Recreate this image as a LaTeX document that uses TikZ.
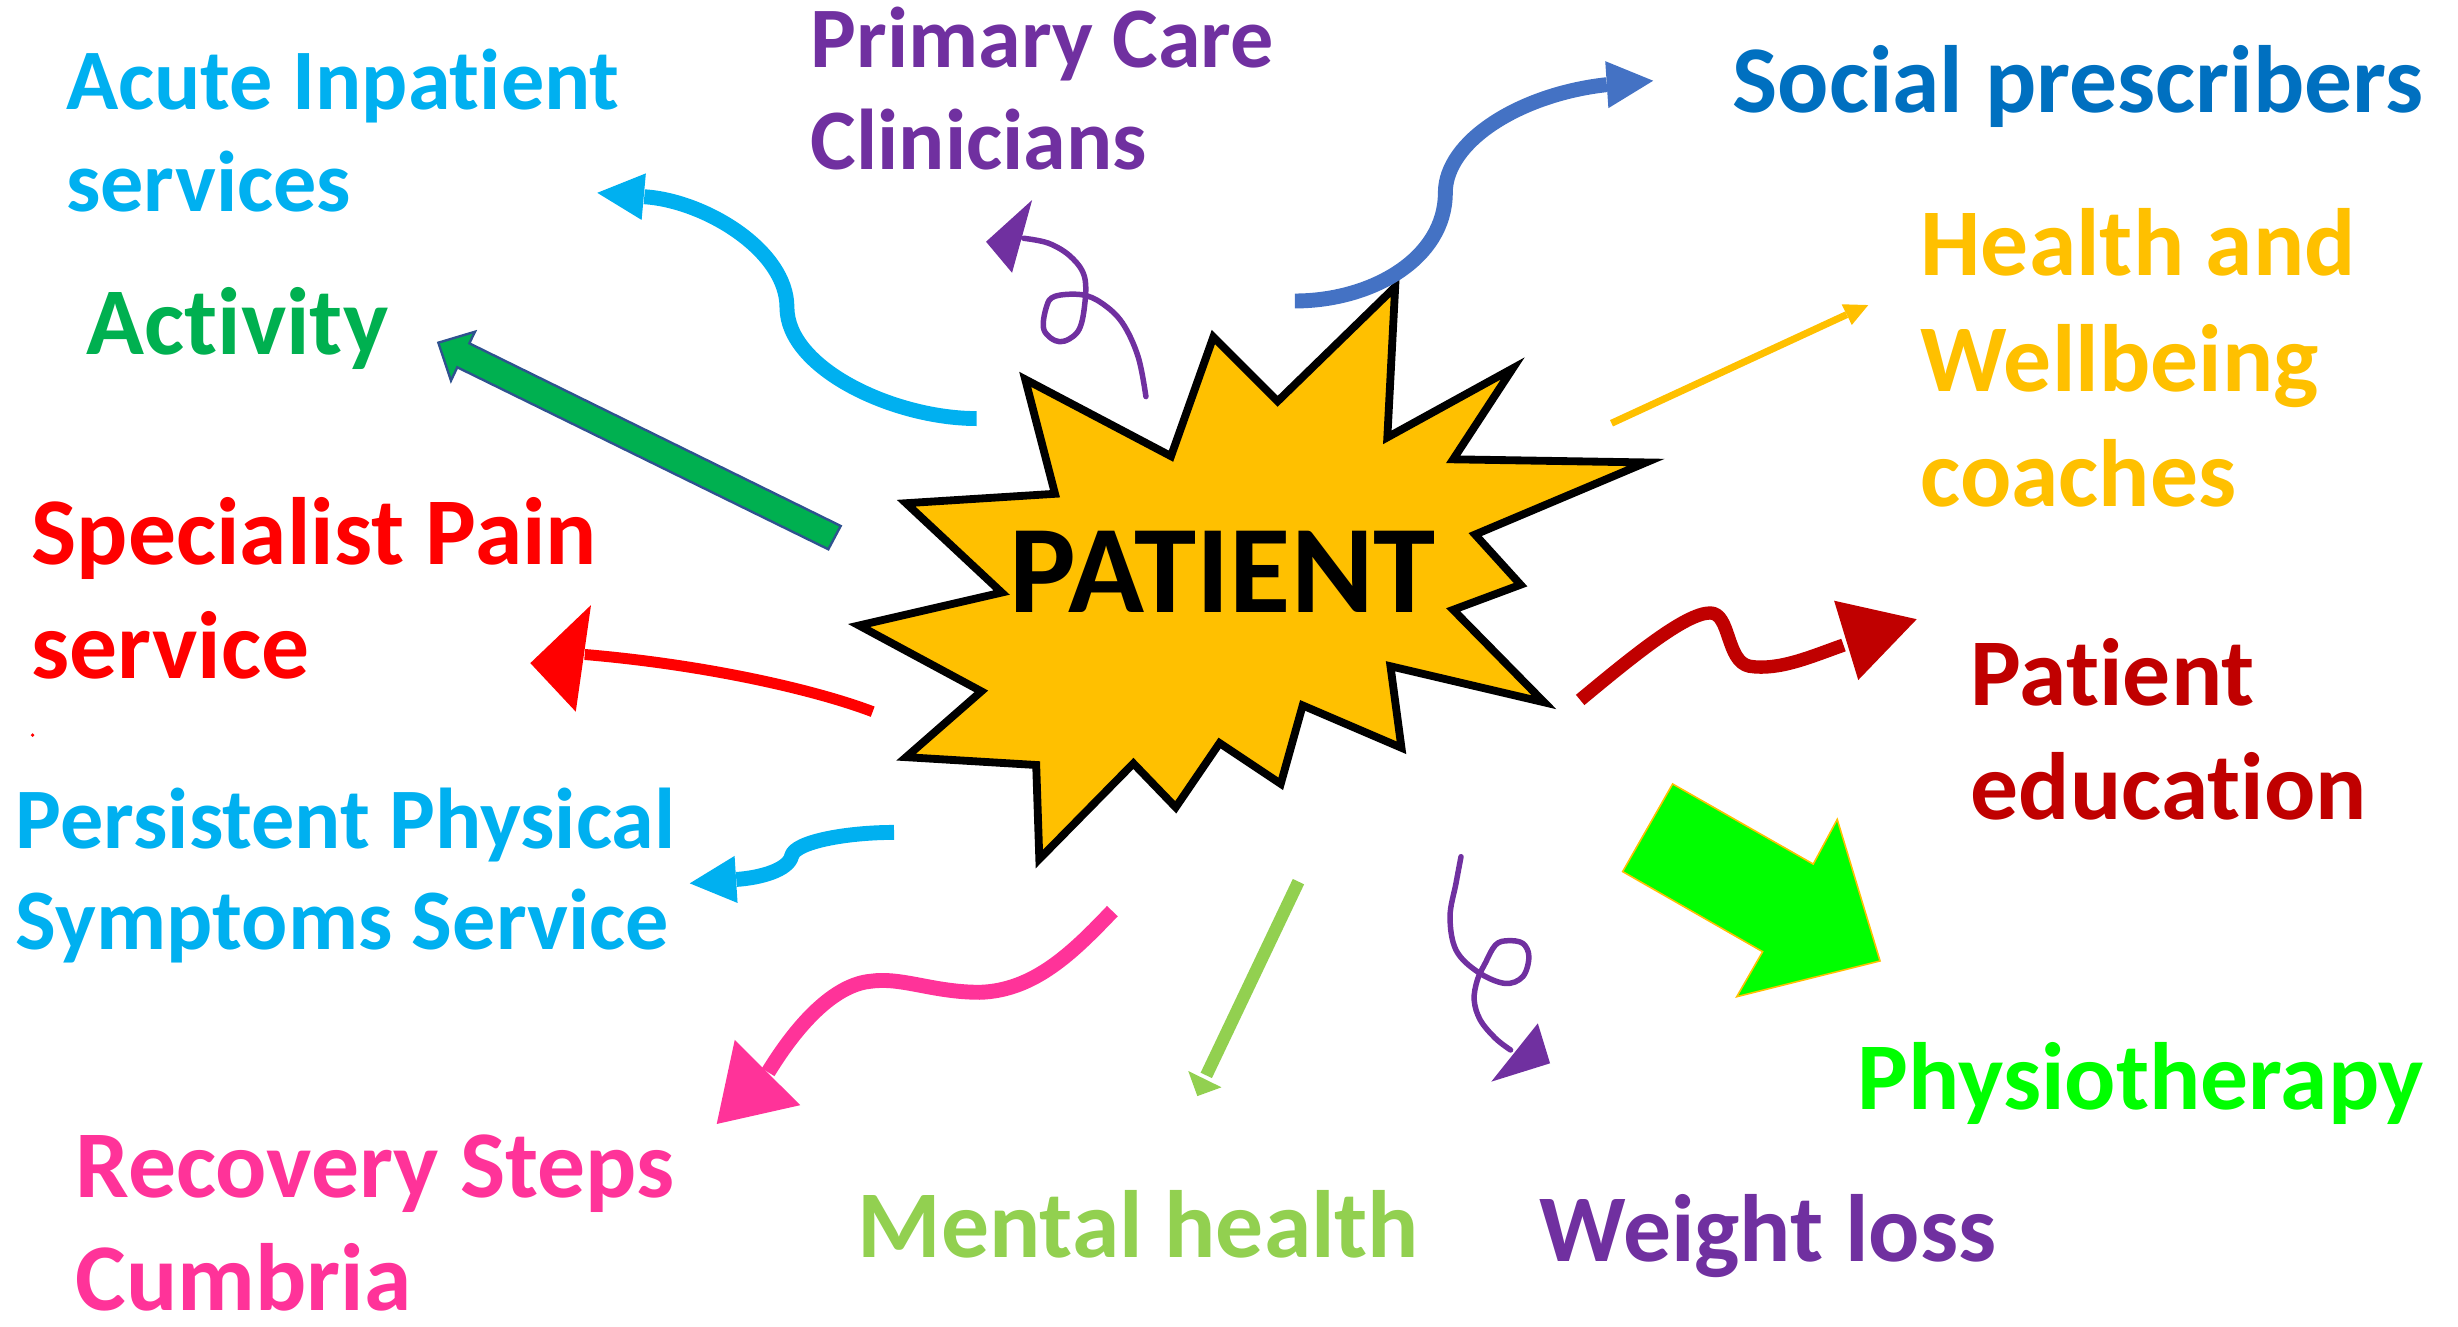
\documentclass[tikz,border=0pt]{standalone}
\usepackage{fontspec}
\setmainfont{Carlito}[Ligatures=NoCommon]
\definecolor{starfill}{HTML}{FFC000}
\definecolor{skyblue}{HTML}{00B0F0}
\definecolor{violet}{HTML}{7030A0}
\definecolor{socialtext}{HTML}{0070C0}
\definecolor{socialarrow}{HTML}{4472C4}
\definecolor{amber}{HTML}{FFC000}
\definecolor{actgreen}{HTML}{00B050}
\definecolor{actedge}{HTML}{2F528F}
\definecolor{painred}{HTML}{FF0000}
\definecolor{darkred}{HTML}{C00000}
\definecolor{lime}{HTML}{00FF00}
\definecolor{pink}{HTML}{FF3399}
\definecolor{leaf}{HTML}{92D050}
\begin{document}
\begin{tikzpicture}[x=1pt,y=-1pt,
  lbl/.style={anchor=base west, inner sep=0pt, font=\fontsize{61}{72}\selectfont\bfseries},
  lblsm/.style={anchor=base west, inner sep=0pt, font=\fontsize{55}{65}\selectfont\bfseries},
  shaft/.style={line cap=butt, line join=round},
  scribble/.style={line cap=round, line join=round, line width=3.5pt},
]
\useasboundingbox (0,0) rectangle (1568,846);

% central burst
\draw[line width=5pt, fill=starfill, line join=miter, miter limit=10]
  (654,242) -- (747,291) -- (774,215) -- (815,256) -- (890,183) -- (885,279)
  -- (965,235) -- (927,293) -- (1050,295) -- (941,341) -- (970,373) -- (927,389)
  -- (985,448) -- (887,425) -- (894,477) -- (831,450) -- (817,500) -- (778,474)
  -- (750,515) -- (723,487) -- (663,548) -- (661,488) -- (578,483) -- (626,441)
  -- (548,399) -- (639,378) -- (578,321) -- (673,315) -- cycle;
\node[anchor=base west, inner sep=0pt, font=\fontsize{80}{90}\selectfont\bfseries] (patient) at (644,391) {PATIENT};

% labels
\node[lblsm, violet] (pc1) at (517,43) {Primary Care};
\node[lblsm, violet] (pc2) at (517,108) {Clinicians};
\node[lblsm, skyblue] (ai1) at (42,70) {Acute Inpatient};
\node[lblsm, skyblue] (ai2) at (42,135) {services};
\node[lbl, socialtext] (sp) at (1105,72) {Social prescribers};
\node[lbl, amber] (hw1) at (1225,176) {Health and};
\node[lbl, amber] (hw2) at (1225,250) {Wellbeing};
\node[lbl, amber] (hw3) at (1225,323) {coaches};
\node[lbl, actgreen] (act) at (55,226) {Activity};
\node[lbl, painred] (pain1) at (20,360) {Specialist Pain};
\node[lbl, painred] (pain2) at (20,433) {service};
\node[lbl, darkred] (ed1) at (1257,450) {Patient};
\node[lbl, darkred] (ed2) at (1257,523) {education};
\node[lblsm, skyblue] (pps1) at (10,541) {Persistent Physical};
\node[lblsm, skyblue] (pps2) at (10,606) {Symptoms Service};
\node[lbl, lime] (phy) at (1185,708) {Physiotherapy};
\node[lbl, pink] (rs1) at (48,764) {Recovery Steps};
\node[lbl, pink] (rs2) at (48,836) {Cumbria};
\node[lbl, leaf] (mh) at (547,802) {Mental health};
\node[lbl, violet] (wl) at (982,805) {Weight loss};
\fill[painred] (20.8,468.9) circle (1.2);

% acute inpatient services
\coordinate (acuteTail) at (623,267);
\coordinate (acuteBase) at (411,125.5);
\draw[shaft, skyblue, line width=9.5pt] (acuteTail) .. controls (570,267) and (502,235) .. (502,196)
  .. controls (502,160) and (450,128) .. (acuteBase);
\fill[skyblue] (381,123) -- (412,110.6) -- (409.3,140.3) -- cycle;

% primary care
\coordinate (pcTail) at (731,253);
\coordinate (pcBase) at (653,152);
\draw[scribble, violet] plot[smooth, tension=0.6] coordinates {(pcTail) (726,227.5) (716,206) (703,193.5)
  (690,188) (673,189) (667.6,195.6) (666,210.5) (676,218) (687.5,211.6) (691.8,195.6)
  (691.8,176.5) (683,163.7) (669,155.2) (pcBase)};
\fill[violet] (629,154.2) -- (658.4,127.6) -- (645.6,174) -- cycle;

% social prescribers
\coordinate (socTail) at (826,192);
\coordinate (socBase) at (1025,54);
\draw[shaft, socialarrow, line width=9.5pt] (socTail) .. controls (875,192) and (922,165) .. (922,123)
  .. controls (922,90) and (970,60) .. (socBase);
\fill[socialarrow] (1054.6,51.5) -- (1024,39) -- (1026,69) -- cycle;

% health and wellbeing coaches
\coordinate (hwTail) at (1028,270);
\coordinate (hwBase) at (1178,200.7);
\draw[shaft, amber, line width=4.5pt] (hwTail) -- (hwBase);
\fill[amber] (1191.8,194.6) -- (1174.8,194.1) -- (1181.3,207.3) -- cycle;

% activity block arrow
\filldraw[fill=actgreen, draw=actedge, line width=1.5pt, line join=miter]
  (279.6,218.6) -- (303,211.6) -- (299.4,219) -- (536.3,335.5) -- (528.4,350.4)
  -- (291.7,234.3) -- (287.7,242.8) -- cycle;

% specialist pain service
\coordinate (painTail) at (556.7,454);
\coordinate (painBase) at (373,417.5);
\draw[shaft, painred, line width=7pt] (painTail) .. controls (520,440) and (450,424) .. (painBase);
\fill[painred] (338.3,423) -- (377,386) -- (367.3,454) -- cycle;

% persistent physical symptoms service
\coordinate (ppsTail) at (570.3,531);
\coordinate (ppsBase) at (469.7,561);
\draw[shaft, skyblue, line width=9.5pt] (ppsTail) .. controls (540,531) and (507,537) .. (505,546)
  .. controls (503,555) and (485,560) .. (ppsBase);
\fill[skyblue] (440,563.5) -- (468.6,546) -- (470.5,576) -- cycle;

% patient education
\coordinate (edTail) at (1008,446.5);
\coordinate (edBase) at (1176,411.5);
\draw[shaft, darkred, line width=8.5pt] (edTail) .. controls (1040,420) and (1075,391) .. (1091,391)
  .. controls (1104,391) and (1101,422) .. (1116,425)
  .. controls (1135,428) and (1156,418.5) .. (edBase);
\fill[darkred] (1222.7,395) -- (1170,383.2) -- (1185.4,433.8) -- cycle;

% physiotherapy block arrow
\filldraw[fill=lime, draw=amber, line width=1pt, line join=miter]
  (1067,500.1) -- (1156.7,551.2) -- (1172,522.7) -- (1199.3,613) -- (1107.9,635.8)
  -- (1124.4,607.1) -- (1035.1,556) -- cycle;

% recovery steps cumbria
\coordinate (rsTail) at (709.6,581.2);
\coordinate (rsBase) at (490,684);
\draw[shaft, pink, line width=9.5pt] (rsTail) .. controls (685,607) and (660,632) .. (625,633)
  .. controls (595,633) and (575,623) .. (555,626)
  .. controls (535,628) and (512,648) .. (rsBase);
\fill[pink] (457.2,717) -- (468.7,663.4) -- (510.5,705) -- cycle;

% mental health
\coordinate (mhTail) at (828.3,562.4);
\coordinate (mhBase) at (769.5,686);
\draw[shaft, leaf, line width=8pt] (mhTail) -- (mhBase);
\fill[leaf] (763.8,699.2) -- (758,683.2) -- (779.2,693.6) -- cycle;

% weight loss
\coordinate (wlTail) at (932,546.5);
\coordinate (wlBase) at (963.6,669.8);
\draw[scribble, violet] plot[smooth, tension=0.6] coordinates {(wlTail) (928.8,563.5) (925,584.8)
  (928.8,606) (942.4,619.8) (959.8,627.3) (971.4,623) (975.3,610.3) (971.4,601.8)
  (961.7,600.1) (954,602.8) (947.4,614.5) (942.4,625.2) (940.4,638) (944.3,650.7)
  (954,662.4) (wlBase)};
\fill[violet] (988.8,678.3) -- (981,652.8) -- (951.3,690) -- cycle;
\end{tikzpicture}
\end{document}
